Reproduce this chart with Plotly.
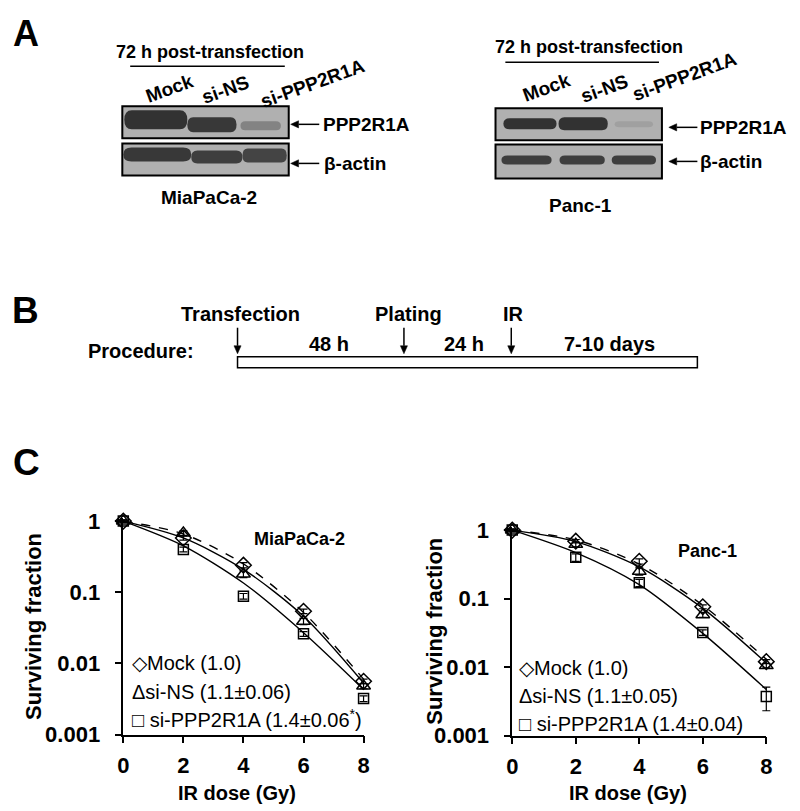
import math
import plotly.graph_objects as go

F = "Liberation Sans, Arial, sans-serif"
OFF_X = 8          # body margin (horizontal)
W, H = 784, 811    # figure size in px
# measured vertical mapping of the photographed page: shown_y = SY * page_y + TY
SY, TY = 0.971, 9.1

# ---------------- data ----------------
doses = [0, 2, 4, 6, 8]
dose_ticks = [0, 2, 4, 6, 8]
sf_ticks = [0.001, 0.01, 0.1, 1]
sf_ticktext = ["0.001", "0.01", "0.1", "1"]

mia_mock = [1.0, 0.58, 0.24, 0.054, 0.0056]
mia_ns = [1.0, 0.68, 0.18, 0.039, 0.0048]
mia_si = [1.0, 0.40, 0.088, 0.026, 0.0032]
mia_mock_err = [0.03, 0.04, 0.02, 0.004, 0.0004]
mia_ns_err = [0.04, 0.05, 0.02, 0.004, 0.0004]
mia_si_err = [0.03, 0.03, 0.008, 0.002, 0.0003]
mia_mock_fit = [1.0, 0.66, 0.25, 0.052, 0.0060]
mia_ns_fit = [1.0, 0.58, 0.21, 0.046, 0.0053]
mia_si_fit = [1.0, 0.45, 0.135, 0.027, 0.0043]

pan_mock = [1.0, 0.69, 0.35, 0.076, 0.012]
pan_ns = [1.0, 0.62, 0.25, 0.058, 0.0105]
pan_si = [1.0, 0.40, 0.17, 0.032, 0.0037]
pan_mock_err = [0.03, 0.04, 0.03, 0.005, 0.0008]
pan_ns_err = [0.04, 0.05, 0.03, 0.005, 0.0008]
pan_si_err = [0.03, 0.05, 0.02, 0.003, 0.0014]
pan_mock_fit = [1.0, 0.72, 0.32, 0.080, 0.0130]
pan_ns_fit = [1.0, 0.68, 0.29, 0.072, 0.0115]
pan_si_fit = [1.0, 0.47, 0.16, 0.031, 0.0047]

legend_mia = ["\u25c7Mock (1.0)", "\u0394si-NS (1.1\u00b10.06)", "\u25a1 si-PPP2R1A (1.4\u00b10.06<sup>*</sup>)"]
legend_pan = ["\u25c7Mock (1.0)", "\u0394si-NS (1.1\u00b10.05)", "\u25a1 si-PPP2R1A (1.4\u00b10.04)"]

lanes = ["Mock", "si-NS", "si-PPP2R1A"]
mia_ppp = [1.0, 0.95, 0.35]
mia_act = [0.95, 0.9, 0.85]
pan_ppp = [1.0, 1.0, 0.12]
pan_act = [0.9, 0.9, 0.9]

steps = ["Transfection", "Plating", "IR"]
intervals = ["48 h", "24 h", "7-10 days"]


def px(x):
    return (x - OFF_X) / W


def py(y):
    fy = (y - TY) / SY - 8
    return 1 - fy / H


fig = go.Figure()
ann = []
shapes = []


def text(x, y, t, size=18, bold=True, xanchor="center", angle=0):
    ann.append(dict(x=px(x), y=py(y), xref="paper", yref="paper", text=t, showarrow=False,
                    textangle=angle, xanchor=xanchor, yanchor="middle",
                    font=dict(family=F, size=size, color="black", weight="bold" if bold else "normal")))


def arrow(xh, yh, xt, yt, width=1.5, hl=8.0, hw=3.6):
    dx, dy = xh - xt, yh - yt
    n = math.hypot(dx, dy)
    ux, uy = dx / n, dy / n
    bx, by = xh - ux * hl, yh - uy * hl
    shapes.append(dict(type="line", xref="paper", yref="paper", x0=px(xt), y0=py(yt),
                       x1=px(bx), y1=py(by), line=dict(color="black", width=width)))
    p1 = (bx - uy * hw, by + ux * hw)
    p2 = (bx + uy * hw, by - ux * hw)
    path = f"M {px(xh)},{py(yh)} L {px(p1[0])},{py(p1[1])} L {px(p2[0])},{py(p2[1])} Z"
    shapes.append(dict(type="path", xref="paper", yref="paper", path=path, fillcolor="black",
                       line=dict(color="black", width=0.5)))


def band_path(x0, x1, y0, y1):
    X0, X1, Y0, Y1 = px(x0), px(x1), py(y0), py(y1)
    r = (X1 - X0) * 0.12
    ym = (Y0 + Y1) / 2
    return (f"M {X0 + r},{Y0} L {X1 - r},{Y0} Q {X1},{Y0} {X1},{ym} Q {X1},{Y1} {X1 - r},{Y1} "
            f"L {X0 + r},{Y1} Q {X0},{Y1} {X0},{ym} Q {X0},{Y0} {X0 + r},{Y0} Z")


def mix(i):
    bg, dk = 176, 50
    v = int(bg + (dk - bg) * i)
    return f"rgb({v},{v},{v})"


def blot(box1, box2, bands1, bands2, int1, int2):
    for (bx0, by0, bx1, by1), bands, ints in ((box1, bands1, int1), (box2, bands2, int2)):
        shapes.append(dict(type="rect", xref="paper", yref="paper", x0=px(bx0), x1=px(bx1),
                           y0=py(by0), y1=py(by1), fillcolor="rgb(176,176,176)",
                           line=dict(color="black", width=2), layer="below"))
        for (x0, x1, y0, y1), it in zip(bands, ints):
            shapes.append(dict(type="path", xref="paper", yref="paper", path=band_path(x0, x1, y0, y1),
                               fillcolor=mix(it), line=dict(width=0), layer="above"))


# ---------------- Panel A ----------------
text(20, 33, "A", size=36)
text(207, 52, "72 h post-transfection", size=18)
shapes.append(dict(type="line", xref="paper", yref="paper", x0=px(126), x1=px(283), y0=py(66), y1=py(66),
                   line=dict(color="black", width=1.5)))
for (cx, cy), lab in zip([(166, 88), (223, 89), (311, 83)], lanes):
    text(cx, cy, lab, size=19, angle=-20)
blot((118, 106, 287, 138), (118, 143, 287, 175),
     [(120, 184, 110, 129), (184, 234, 117, 132), (238, 279, 121, 130)],
     [(119, 188, 147, 161), (188, 240, 150, 163), (240, 285, 148, 162)],
     mia_ppp, mia_act)
arrow(289, 124, 318, 124)
text(320, 124, "PPP2R1A", size=19, xanchor="left")
arrow(289, 163, 318, 163)
text(321, 163, "\u03b2-actin", size=19, xanchor="left")
text(206, 197, "MiaPaCa-2", size=19)

text(592, 47, "72 h post-transfection", size=18)
shapes.append(dict(type="line", xref="paper", yref="paper", x0=px(507), x1=px(663), y0=py(62), y1=py(62),
                   line=dict(color="black", width=1.5)))
for (cx, cy), lab in zip([(549, 87), (608, 88), (689, 76)], lanes):
    text(cx, cy, lab, size=19, angle=-20)
blot((497, 108, 666, 140), (497, 144, 666, 178),
     [(505, 559, 118, 129), (561, 611, 117, 130), (618, 657, 121, 127)],
     [(503, 554, 155, 164), (562, 608, 155, 164), (615, 660, 155, 164)],
     pan_ppp, pan_act)
arrow(673, 127, 702, 127)
text(703, 127, "PPP2R1A", size=19, xanchor="left")
arrow(673, 161, 702, 161)
text(703, 161, "\u03b2-actin", size=19, xanchor="left")
text(583, 205, "Panc-1", size=19)

# ---------------- Panel B ----------------
text(20, 310, "B", size=37)
text(137, 350, "Procedure:", size=20)
shapes.append(dict(type="rect", xref="paper", yref="paper", x0=px(235), x1=px(702), y0=py(356), y1=py(367),
                   fillcolor="white", line=dict(color="black", width=1.5)))
for (ax_, lx), lab in zip([(235, 238), (404, 409), (513, 515)], steps):
    text(lx, 313, lab, size=20)
    arrow(ax_, 353, ax_, 327, width=1.5)
for cx, lab in zip([328, 465, 613], intervals):
    text(cx, 343, lab, size=20)

# ---------------- Panel C ----------------
text(21, 462, "C", size=37)

marker_styles = [("diamond-open", 12), ("triangle-up-open", 12), ("square-open", 10)]


def add_chart(xa, ya, xd, yd, pts, errs, fits):
    fig.add_trace(go.Scatter(x=[], y=[], xaxis=xa, yaxis=ya, showlegend=False))
    dashes = ["dash", "solid", "solid"]
    for fit, dsh in zip(fits, dashes):
        fig.add_trace(go.Scatter(x=doses, y=fit, mode="lines",
                                 line=dict(color="black", width=1.4, dash=dsh, shape="spline", smoothing=0.8),
                                 xaxis=xd, yaxis=yd, showlegend=False, hoverinfo="skip", cliponaxis=False))
    for vals, err, (sym, sz) in zip(pts, errs, marker_styles):
        fig.add_trace(go.Scatter(x=doses, y=vals, mode="markers",
                                 marker=dict(symbol=sym, size=sz, color="black", line=dict(width=1.5, color="black")),
                                 error_y=dict(type="data", array=err, color="black", thickness=1.2, width=4),
                                 xaxis=xd, yaxis=yd, showlegend=False, cliponaxis=False))


add_chart("x", "y", "x3", "y3", [mia_mock, mia_ns, mia_si], [mia_mock_err, mia_ns_err, mia_si_err],
          [mia_mock_fit, mia_ns_fit, mia_si_fit])
add_chart("x2", "y2", "x4", "y4", [pan_mock, pan_ns, pan_si], [pan_mock_err, pan_ns_err, pan_si_err],
          [pan_mock_fit, pan_ns_fit, pan_si_fit])

text(298, 538, "MiaPaCa-2", size=18)
text(712, 550, "Panc-1", size=18)
for yy, lab in zip([662, 691, 717], legend_mia):
    text(126, yy, lab, size=20, bold=False, xanchor="left")
for yy, lab in zip([667, 695, 723], legend_pan):
    text(519, yy, lab, size=20, bold=False, xanchor="left")

text(28, 625, "Surviving fraction", size=22, angle=-90)
text(435, 630, "Surviving fraction", size=22, angle=-90)
text(234, 791, "IR dose (Gy)", size=20)
text(632, 791, "IR dose (Gy)", size=20)

axis_common = dict(showgrid=False, zeroline=False, showline=True, linecolor="black", linewidth=1.5,
                   ticks="outside", ticklen=7, tickwidth=1.5, tickcolor="black",
                   tickfont=dict(family=F, size=22, color="black", weight="bold"))
hidden = dict(visible=False, showgrid=False, zeroline=False)

EXT = 12


def x_axes(left, right):
    s = (right - left) / 8.0
    vis = dict(domain=[px(left), px(right)], range=[0, 8], tickvals=dose_ticks, ticklabelstandoff=3,
               **axis_common)
    dat = dict(domain=[px(left - EXT), px(right + EXT)], range=[-EXT / s, 8 + EXT / s], **hidden)
    return vis, dat


def y_axes(top1, bottom):
    dec = (bottom - top1) / 3.0
    top = top1 - 0.05 * dec
    vis = dict(domain=[py(bottom), py(top)], type="log", range=[-3, 0.05], tickvals=sf_ticks,
               ticktext=sf_ticktext, ticklabelstandoff=10, **axis_common)
    dat = dict(domain=[py(bottom), py(top)], type="log", range=[-3, 0.05], **hidden)
    return vis, dat


xv1, xd1 = x_axes(119, 363)
yv1, yd1 = y_axes(520, 733)
xv2, xd2 = x_axes(514, 772)
yv2, yd2 = y_axes(529, 734)

fig.update_layout(
    width=W, height=H, margin=dict(l=0, r=0, t=0, b=0), paper_bgcolor="white", plot_bgcolor="rgba(0,0,0,0)",
    showlegend=False, annotations=ann, shapes=shapes,
    xaxis=dict(anchor="y", **xv1), yaxis=dict(anchor="x", **yv1),
    xaxis2=dict(anchor="y2", **xv2), yaxis2=dict(anchor="x2", **yv2),
    xaxis3=dict(anchor="y3", **xd1), yaxis3=dict(anchor="x3", **yd1),
    xaxis4=dict(anchor="y4", **xd2), yaxis4=dict(anchor="x4", **yd2),
)

fig.write_html("out.html")
